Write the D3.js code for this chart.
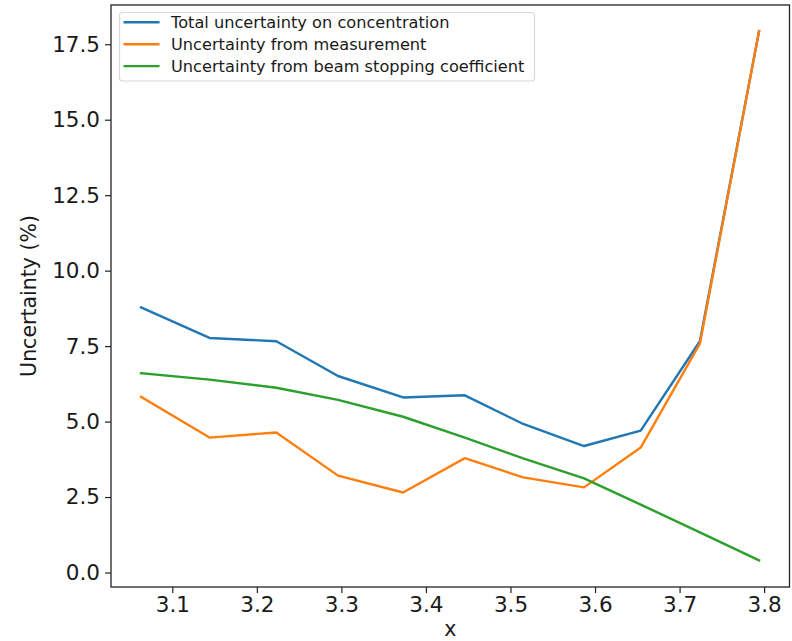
<!DOCTYPE html>
<html>
<head>
<meta charset="utf-8">
<script src="https://cdn.jsdelivr.net/npm/d3@7"></script>
<style>
  html, body { margin: 0; padding: 0; background: #fff; }
  svg { display: block; font-family: "DejaVu Sans", sans-serif; }
</style>
</head>
<body>
<svg id="chart" width="792" height="641"></svg>
<script>
// Sample positions and the three uncertainty curves (%)
const xValues = [3.063, 3.144, 3.223, 3.296, 3.373, 3.446, 3.515, 3.587, 3.654, 3.724, 3.794];
const totalUncertainty = [8.78, 7.77, 7.66, 6.51, 5.80, 5.87, 4.92, 4.19, 4.70, 7.66, 17.93];
const measurementUncertainty = [5.82, 4.47, 4.64, 3.21, 2.65, 3.79, 3.15, 2.82, 4.14, 7.58, 17.93];
const stoppingUncertainty = [6.60, 6.39, 6.12, 5.72, 5.16, 4.47, 3.78, 3.12, 2.25, 1.33, 0.40];

const seriesNames = [
  "Total uncertainty on concentration",
  "Uncertainty from measurement",
  "Uncertainty from beam stopping coefficient"
];
const seriesColors = ["#1f77b4", "#ff7f0e", "#2ca02c"];
const xTicks = [3.1, 3.2, 3.3, 3.4, 3.5, 3.6, 3.7, 3.8];
const yTicks = [0, 2.5, 5, 7.5, 10, 12.5, 15, 17.5];

const series = [totalUncertainty, measurementUncertainty, stoppingUncertainty].map((vals, i) => ({
  name: seriesNames[i],
  color: seriesColors[i],
  points: vals.map((v, j) => [xValues[j], v])
}));

const margin = { left: 111, right: 792 - 789.5, top: 5, bottom: 641 - 587 };
const svg = d3.select("#chart");
const W = 792, H = 641;
const x = d3.scaleLinear().domain([3.0275, 3.8300]).range([margin.left, W - margin.right]);
const y = d3.scaleLinear().domain([-0.48, 18.8]).range([H - margin.bottom, margin.top]);

// Axes
const xAxis = d3.axisBottom(x).tickValues(xTicks).tickFormat(d3.format(".1f")).tickSize(6).tickPadding(4);
const yAxis = d3.axisLeft(y).tickValues(yTicks).tickFormat(d3.format(".1f")).tickSize(6).tickPadding(5);

const gx = svg.append("g").attr("transform", `translate(0,${H - margin.bottom})`).call(xAxis);
const gy = svg.append("g").attr("transform", `translate(${margin.left},0)`).call(yAxis);
[gx, gy].forEach(g => {
  g.select(".domain").remove();
  g.selectAll(".tick line").attr("stroke", "#222").attr("stroke-width", 1.2);
  g.selectAll(".tick text").attr("fill", "#1a1a1a").style("font-size", "21.5px")
    .style("font-family", "DejaVu Sans, sans-serif");
});

// Lines
const line = d3.line().x(d => x(d[0])).y(d => y(d[1]));
const plot = svg.append("g");
series.forEach(s => {
  plot.append("path")
    .datum(s.points)
    .attr("fill", "none")
    .attr("stroke", s.color)
    .attr("stroke-width", 2.4)
    .attr("stroke-linejoin", "round")
    .attr("stroke-linecap", "square")
    .attr("d", line);
});

// Frame
svg.append("rect")
  .attr("x", margin.left).attr("y", margin.top)
  .attr("width", W - margin.right - margin.left)
  .attr("height", H - margin.bottom - margin.top)
  .attr("fill", "none").attr("stroke", "#222").attr("stroke-width", 1.3);

// Axis labels
svg.append("text")
  .attr("x", (margin.left + W - margin.right) / 2)
  .attr("y", 636)
  .attr("text-anchor", "middle")
  .attr("fill", "#1a1a1a")
  .style("font-size", "20.5px")
  .text("x");

svg.append("text")
  .attr("transform", `translate(36,${(margin.top + H - margin.bottom) / 2}) rotate(-90)`)
  .attr("text-anchor", "middle")
  .attr("fill", "#1a1a1a")
  .style("font-size", "20.5px")
  .text("Uncertainty (%)");

// Legend
const legend = svg.append("g");
legend.append("rect")
  .attr("x", 119.5).attr("y", 12.5).attr("width", 415).attr("height", 68.5)
  .attr("rx", 3).attr("ry", 3)
  .attr("fill", "#fff").attr("fill-opacity", 0.8)
  .attr("stroke", "#d9d9d9").attr("stroke-width", 1.2);
series.forEach((s, i) => {
  const cy = 22.3 + i * 21.9;
  legend.append("line")
    .attr("x1", 123.5).attr("x2", 159.5).attr("y1", cy).attr("y2", cy)
    .attr("stroke", s.color).attr("stroke-width", 2.4);
  legend.append("text")
    .attr("x", 171).attr("y", cy + 5.8)
    .attr("fill", "#1a1a1a")
    .style("font-size", "16.2px")
    .text(s.name);
});
</script>
</body>
</html>
